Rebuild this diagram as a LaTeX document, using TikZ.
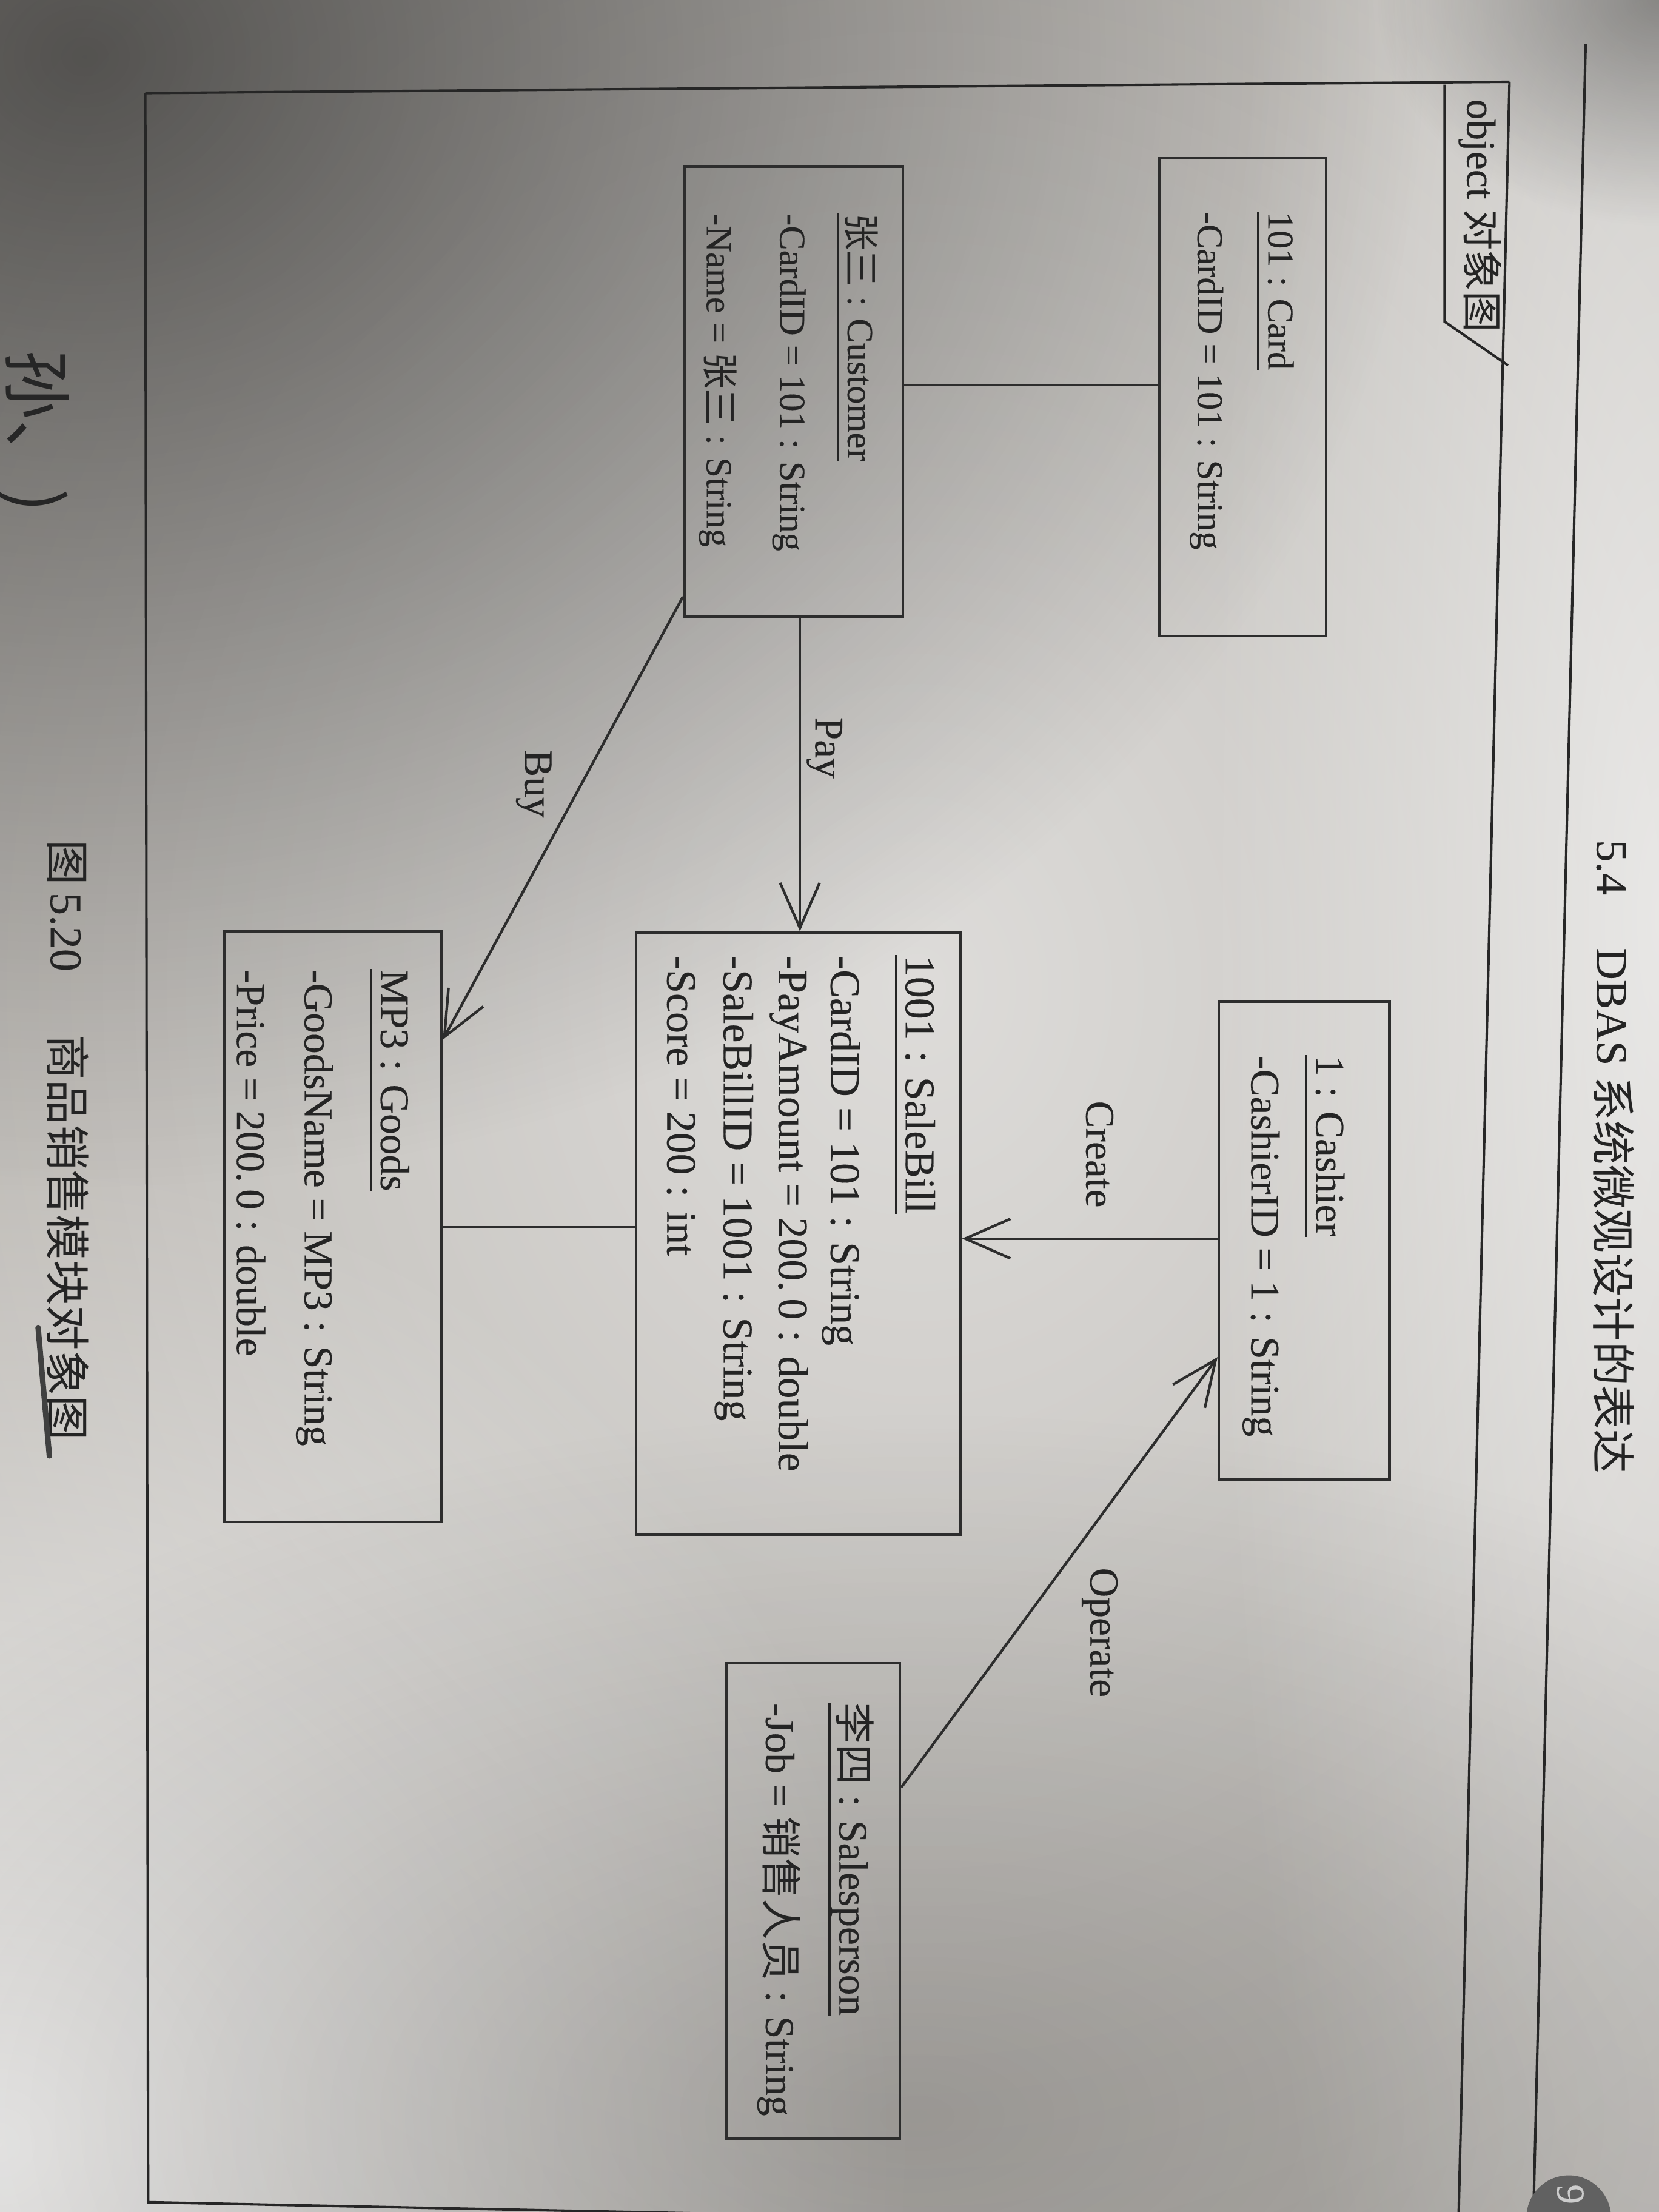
\documentclass[tikz,border=0pt]{standalone}
\usepackage{fontspec}
\setmainfont{Liberation Serif}[FakeBold=0.25]
\newfontfamily\cjk{Noto Sans CJK SC}
\usetikzlibrary{arrows.meta,fadings}
\definecolor{bgbase}{RGB}{172,168,162}
\definecolor{ink}{RGB}{36,36,36}
\definecolor{edge}{RGB}{45,45,45}
\tikzfading[name=softfade, inner color=transparent!0, outer color=transparent!100]
\tikzset{
  lbl/.style={rotate=-90, anchor=base west, inner sep=0pt, text=ink},
  tA/.style={lbl, font=\fontsize{14.8pt}{16pt}\selectfont},
  tB/.style={lbl, font=\fontsize{16.5pt}{18pt}\selectfont},
  tC/.style={lbl, font=\fontsize{17.1pt}{19pt}\selectfont},
  tD/.style={lbl, font=\fontsize{18.2pt}{20pt}\selectfont},
  tH/.style={lbl, font=\fontsize{17.8pt}{20pt}\selectfont},
  objbox/.style={draw=edge, line width=1.05pt, rectangle, inner sep=0pt},
  conn/.style={draw=edge, line width=1.05pt},
  arr/.style={conn, -{Straight Barb[length=0.64cm, width=0.56cm]}},
  uline/.style={draw=ink, line width=0.9pt},
  rule/.style={draw=black!85, line width=1pt}
}
\begin{document}
\begin{tikzpicture}[x=0.02cm, y=-0.02cm]
\useasboundingbox (0,0) rectangle (1176,1568);
\clip (0,0) rectangle (1176,1568);
% ---------- photo background ----------
\fill[bgbase] (0,0) rectangle (1176,1568);
\fill[white, opacity=0.6, path fading=softfade] (650,700) ellipse (1150 and 1350);
\fill[white, opacity=0.8, path fading=softfade] (0,1520) ellipse (650 and 700);
\fill[white, opacity=0.6, path fading=softfade] (1176,650) ellipse (320 and 1500);
\fill[black, opacity=0.55, path fading=softfade] (60,40) ellipse (950 and 800);
\fill[black, opacity=0.2, path fading=softfade] (650,1500) ellipse (900 and 500);
\fill[black, opacity=0.35, path fading=softfade] (1176,0) ellipse (200 and 160);
% ---------- page rules ----------
\draw[rule] (103,66) -- (1070,58);
\draw[rule] (103,66) -- (105,1561) -- (1034,1580);
\draw[rule] (1070,58) -- (1034,1568);
\draw[rule] (1124,31) -- (1087,1568);
% ---------- frame tab ----------
\draw[rule] (1069,259) -- (1024,228) -- (1024,60);
\node[tB] (tab) at (1040,70) {object {\cjk 对象图}};
% ---------- boxes ----------
\node[objbox, minimum width=2.36cm, minimum height=6.78cm] (card) at (881,281.5) {};
\node[objbox, minimum width=3.10cm, minimum height=6.38cm] (cust) at (562.5,277.5) {};
\node[objbox, minimum width=2.42cm, minimum height=6.78cm] (cash) at (924.5,879.5) {};
\node[objbox, minimum width=4.60cm, minimum height=8.54cm] (bill) at (566,874.5) {};
\node[objbox, minimum width=3.08cm, minimum height=8.38cm] (goods) at (236,869.5) {};
\node[objbox, minimum width=2.46cm, minimum height=6.74cm] (sales) at (576.5,1347.5) {};
% ---------- box texts ----------
\node[tA] (cardh) at (899,150) {101 : Card};
\node[tA] (carda) at (849,150) {-CardID = 101 : String};
\node[tA] (custh) at (601,151) {{\cjk 张三} : Customer};
\node[tA] (custa1) at (553,151) {-CardID = 101 : String};
\node[tA] (custa2) at (501,151) {-Name = {\cjk 张三} : String};
\node[tB] (cashh) at (933,748) {1 : Cashier};
\node[tB] (casha) at (887,748) {-CashierID = 1 : String};
\node[tC] (billh) at (642,677) {1001 : SaleBill};
\node[tC] (billa1) at (589,677) {-CardID = 101 : String};
\node[tC] (billa2) at (552,677) {-PayAmount = 200.\,0 : double};
\node[tC] (billa3) at (513,677) {-SaleBillID = 1001 : String};
\node[tC] (billa4) at (473,677) {-Score = 200 : int};
\node[tB] (goodsh) at (270,687) {MP3 : Goods};
\node[tB] (goodsa1) at (216,687) {-GoodsName = MP3 : String};
\node[tB] (goodsa2) at (168,687) {-Price = 200.\,0 : double};
\node[tB] (salesh) at (595,1207) {{\cjk 李四} : Salesperson};
\node[tB] (salesa) at (543,1207) {-Job = {\cjk 销售人员} : String};
\foreach \h in {cardh,custh,cashh,billh,goodsh,salesh}{
  \draw[uline] ([xshift=-0.14cm]\h.base west) -- ([xshift=-0.14cm]\h.base east);
}
% ---------- connectors ----------
\coordinate (linkCC) at (700,273);
\coordinate (payX) at (567,0);
\coordinate (buyS) at (0,423);
\coordinate (buyE) at (0,737);
\coordinate (createY) at (0,878);
\coordinate (opS) at (0,1267);
\coordinate (opE) at (0,962);
\coordinate (bgY) at (0,870);
\draw[conn] (cust.east |- linkCC) -- (card.west |- linkCC);
\draw[arr] (cust.south -| payX) -- (bill.north -| payX);
\draw[arr] (cust.west |- buyS) -- (goods.east |- buyE);
\draw[arr] (cash.west |- createY) -- (bill.east |- createY);
\draw[arr] (sales.east |- opS) -- (cash.west |- opE);
\draw[conn] (bill.west |- bgY) -- (goods.east |- bgY);
% ---------- connector labels ----------
\node[tB] (payl) at (578,508) {Pay};
\node[tB] (buyl) at (372,531) {Buy};
\node[tB] (createl) at (770,780) {Create};
\node[tB] (operl) at (773,1111) {Operate};
% ---------- page texts ----------
\node[tH] (head) at (1132,595) {5.4\hspace{1.2em}DBAS {\cjk 系统微观设计的表达}};
\node[tD] (cap) at (36,595) {{\cjk 图}\,5.20\hspace{1.4em}{\cjk 商品销售模块对象图}};
\draw[line width=2.2pt, line cap=round, draw=black!75] (27,941) -- (35,1032);
\node[lbl, text=black!85, font=\cjk\fontsize{28pt}{30pt}\selectfont] (hand) at (8,248) {孙、)};
\fill[black!62] (1112,1572) circle (30);
\node[lbl, text=black!20, font=\fontsize{16pt}{18pt}\selectfont] (pnum) at (1104,1548) {9};
\end{tikzpicture}
\end{document}
